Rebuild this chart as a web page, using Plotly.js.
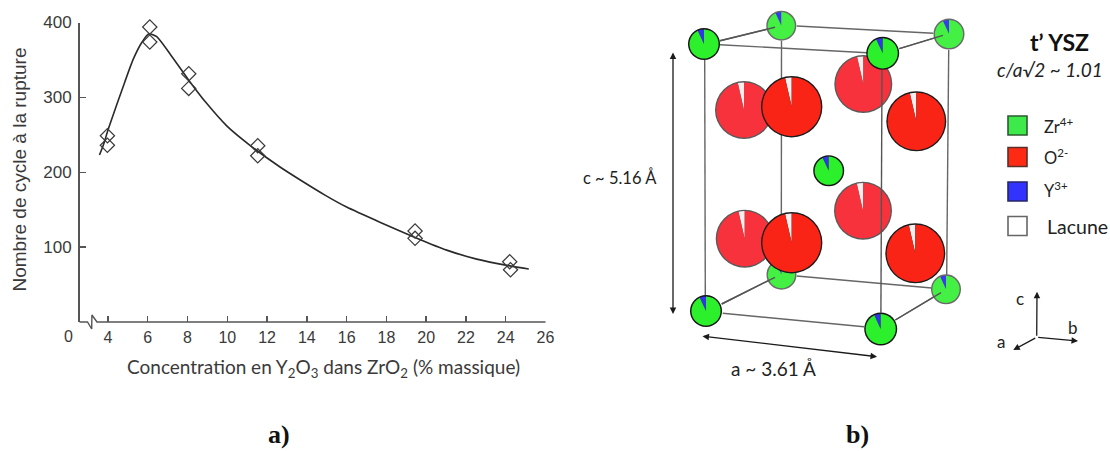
<!DOCTYPE html>
<html><head><meta charset="utf-8">
<script src="https://cdn.plot.ly/plotly-3.0.1.min.js"></script>
<style>html,body{margin:0;padding:0;background:#fff}#chart{width:1110px;height:451px}</style>
</head><body><div id="chart"></div>
<script>
// ---------- panel a) data ----------
const concentration = [3.97,3.97,6.1,6.1,8.06,8.06,11.53,11.53,19.44,19.44,24.2,24.24];
const cycles = [248.7,236,394,374,331.6,312,235.4,222,121.5,111.7,80.5,69.8];
const fitX = [3.57,3.75,4.02,4.85,5.27,5.69,6.06,6.45,7.12,8.06,8.96,9.97,11.14,12.65,13.65,14.91,16,17.7,19.44,21.03,22.54,24.2,25.16];
const fitY = [223,235,258,321,351,373,385,381,358,323,292,262,236,207,190,169.5,153.5,133,113,96,84,75,70.8];
const xTicks = [4,6,8,10,12,14,16,18,20,22,24,26];
const yTicks = [100,200,300,400];

// ---------- panel b) schematic (page-pixel scale on hidden axes) ----------
const atomX    = [781.5,946,781.3,949, 744,744.7,863.3,863, 828.7, 791.7,916.3,791.7,915.3, 704,882.7,706,880.7];
const atomY    = [274.7,289.3,25.7,34, 110,238.7,84,210.7, 170.7, 106.7,121.3,242.7,253.3, 44,53.3,311,329];
const atomR    = [15,15,15,15.5, 29,29,29,29, 15.5, 30.7,30,30.7,30, 16,16.5,16,16.5];
const atomKind = ['zb','zb','zb','zb','ob','ob','ob','ob','zf','of','of','of','of','zf','zf','zf','zf'];
const zrShares = [25,335];
const oShares  = [13,347];
const kindStyle = {
  zb:{fill:'#44f044', edge:'#6a6a6a', wedge:'#3a3af0', shares:zrShares, rot:-25},
  zf:{fill:'#2cf02c', edge:'#161616', wedge:'#3333e8', shares:zrShares, rot:-25},
  ob:{fill:'#f8323c', edge:'#5a5a5a', wedge:'#f4f0f0', shares:oShares, rot:-13},
  of:{fill:'#fa2416', edge:'#1c1c1c', wedge:'#f4f0f0', shares:oShares, rot:-13}
};
const backEdges = [[781.5,41,781.3,260],[704.7,60,705.3,296],[948.7,50,946.7,275],
  [796.7,26,933.3,33.3],[720,44.7,867,52.7],[720,40.7,775,27.3],[899.3,48.7,943,35.3],
  [721.7,304,775,277.3],[796.7,276,931.7,288],[722.7,313.3,864,326.7],[895.3,320,941,292.7]];
const frontEdges = [[882,70,880.9,313],[720,40.7,775,27.3],[899.3,48.7,943,35.3],
  [721.7,304,775,277.3],[895.3,320,941,292.7]];
const legendNames = ['Zr<sup>4+</sup>','O<sup>2-</sup>','Y<sup>3+</sup>','Lacune'];
const legendColors = ['#3eea4a','#ff2a14','#3333ff','#ffffff'];
const legendEdges = ['#2c5a30','#5a3028','#26266a','#666666'];
const legendX = [1017.5,1017.5,1017.5,1017.5];
const legendY = [125.5,157,191.5,226];
const legendTextX = [1042,1042,1042,1045];
const legendTextY = [126,157,190,226];
const legendTextSize = [16.5,16.5,16.5,19.5];
const axisBreakX = [79.5,87.5,91.7,91.9,97,545.5];
const axisBreakY = [322,322,329,315,322,322];

const W=1110,H=451;
const ink='#3a3a3a';
const lineXs=[],lineYs=[];
backEdges.forEach(e=>{lineXs.push(e[0],e[2],null);lineYs.push(e[1],e[3],null);});

const traces=[
 {type:'scatter',mode:'lines',x:axisBreakX,y:axisBreakY,line:{color:'#555',width:1.4},hoverinfo:'skip',xaxis:'x2',yaxis:'y2'},
 {type:'scatter',mode:'lines',x:fitX,y:fitY,line:{color:'#2a2a2a',width:1.6,shape:'spline',smoothing:0.6},hoverinfo:'skip',cliponaxis:false,xaxis:'x',yaxis:'y'},
 {type:'scatter',mode:'markers',x:concentration,y:cycles,cliponaxis:false,
  marker:{symbol:'diamond-open',size:11,color:'#3a3a3a',line:{color:'#3a3a3a',width:1.2}},xaxis:'x',yaxis:'y'},
 {type:'scatter',mode:'lines',x:lineXs,y:lineYs,connectgaps:false,line:{color:'#666',width:1.4},hoverinfo:'skip',xaxis:'x2',yaxis:'y2'},
 {type:'scatter',mode:'markers',x:legendX,y:legendY,marker:{symbol:'square',size:19,color:legendColors,line:{color:legendEdges,width:1.6}},hoverinfo:'skip',xaxis:'x2',yaxis:'y2'}
];
const dom=(cx,cy,r)=>({x:[(cx-r)/W,(cx+r)/W],y:[1-(cy+r)/H,1-(cy-r)/H]});
atomX.forEach((cx,i)=>{
  const s=kindStyle[atomKind[i]],cy=atomY[i],r=atomR[i];
  traces.push({type:'pie',values:[1],domain:dom(cx,cy,r),sort:false,textinfo:'none',hoverinfo:'skip',showlegend:false,
    marker:{colors:[s.edge],line:{width:0}}});
  traces.push({type:'pie',values:s.shares,domain:dom(cx,cy,r-1.4),sort:false,direction:'clockwise',rotation:s.rot,textinfo:'none',hoverinfo:'skip',showlegend:false,
    marker:{colors:[s.wedge,s.fill],line:{width:0}}});
});

const txt=(text,x,y,size,extra)=>Object.assign({text,x,y,xref:'x2',yref:'y2',showarrow:false,
  xanchor:'center',yanchor:'middle',font:{family:'Lato, sans-serif',size:size,color:'#222'}},extra||{});
const arrow=(x0,y0,x1,y1,side,size)=>({x:x1,y:y1,ax:x0,ay:y0,xref:'x2',yref:'y2',axref:'x2',ayref:'y2',text:'',
  showarrow:true,arrowhead:2,startarrowhead:2,arrowside:side,arrowsize:size,startarrowsize:size,arrowwidth:1.3,arrowcolor:'#1a1a1a',standoff:0,startstandoff:0});
const annotations=[
 txt('Nombre de cycle à la rupture',19,169.5,19,{textangle:-90,font:{family:'Liberation Sans, Arial, sans-serif',size:19,color:ink}}),
 txt('Concentration en Y<sub>2</sub>O<sub>3</sub> dans ZrO<sub>2</sub> (% massique)',323.5,368,19,{font:{family:'Lato, sans-serif',size:19,color:ink}}),
 txt('0',68,336,16,{font:{family:'Liberation Sans, Arial, sans-serif',size:16,color:ink}}),
 txt('a)',279,434,26,{font:{family:'Liberation Serif, serif',size:26,color:'#111',weight:700}}),
 txt('b)',857,434,26,{font:{family:'Liberation Serif, serif',size:26,color:'#111',weight:700}}),
 txt('c ~ 5.16 Å',620,177,16.5),
 txt('a ~ 3.61 Å',773,368,19),
 txt('t’ YSZ',1059,42,23,{font:{family:'Lato, sans-serif',size:23,color:'#111',weight:700}}),
 txt('c/a√2 ~ 1.01',1050,69,19,{font:{family:'Lato, sans-serif',size:19,color:'#222',style:'italic'}}),
 txt('a',1001,341.5,17),txt('b',1073,327,17),txt('c',1020,298,17),
 arrow(673,51,673,314,'end+start',1),
 arrow(701,336,877,356.7,'end+start',1),
 arrow(1036.7,337.3,1037,291.7,'end',1),
 arrow(1036.7,337.3,1078,341,'end',1),
 arrow(1036.7,337.3,1013.3,350,'end',1)
];
legendNames.forEach((n,i)=>annotations.push(txt(n,legendTextX[i],legendTextY[i],legendTextSize[i],{xanchor:'left'})));

const shapes=frontEdges.map(e=>({type:'line',xref:'x2',yref:'y2',x0:e[0],y0:e[1],x1:e[2],y1:e[3],layer:'above',line:{color:'#555',width:1.4}}));

const layout={
 width:W,height:H,margin:{l:0,r:0,t:0,b:0},paper_bgcolor:'#fff',plot_bgcolor:'rgba(0,0,0,0)',showlegend:false,
 xaxis:{domain:[79.5/W,545.5/W],range:[4-28.5/19.886,26],anchor:'y',tickmode:'array',tickvals:xTicks,ticktext:xTicks.map(String),
   ticks:'inside',ticklen:6,tickwidth:1.4,tickcolor:'#555',showgrid:false,zeroline:false,showline:false,
   tickfont:{family:'Liberation Sans, Arial, sans-serif',size:16,color:ink},ticklabelstandoff:4},
 yaxis:{domain:[(H-322)/H,(H-22.5)/H],range:[0,400],anchor:'x',tickmode:'array',tickvals:yTicks,ticktext:yTicks.map(String),
   ticks:'inside',ticklen:6,tickwidth:1.4,tickcolor:'#555',showgrid:false,zeroline:false,showline:true,linecolor:'#555',linewidth:1.4,
   tickfont:{family:'Liberation Sans, Arial, sans-serif',size:17,color:ink},ticklabelstandoff:3},
 xaxis2:{domain:[0,1],range:[0,W],anchor:'y2',visible:false,fixedrange:true},
 yaxis2:{domain:[0,1],range:[H,0],anchor:'x2',visible:false,fixedrange:true},
 annotations,shapes
};
Plotly.newPlot('chart',traces,layout,{displayModeBar:false,staticPlot:true});
</script></body></html>
